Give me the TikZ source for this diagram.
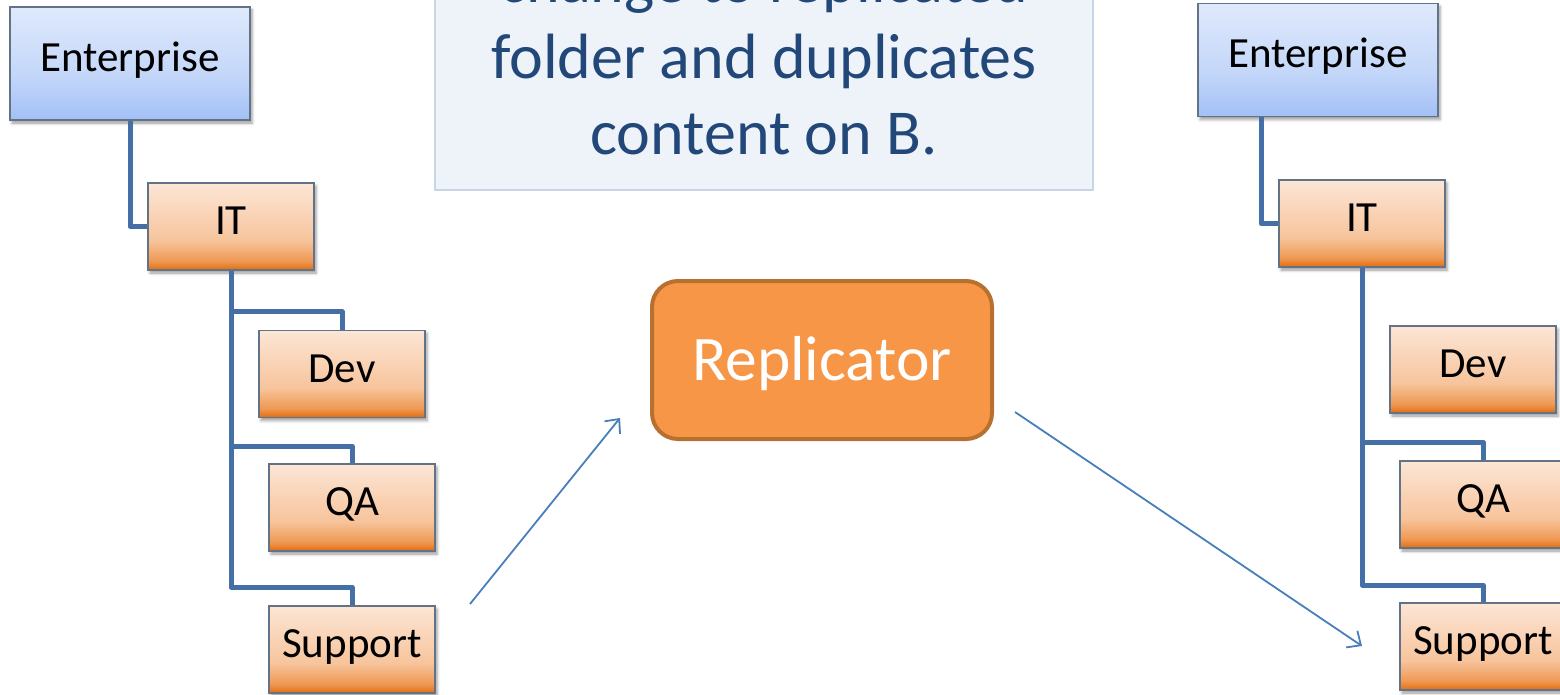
\documentclass[tikz,border=0pt]{standalone}
\usepackage{fontspec}
\setmainfont{Carlito}
\usetikzlibrary{arrows.meta,shadows.blur}
\definecolor{obot}{HTML}{E36B0C}
\definecolor{omid1}{HTML}{EE9852}
\definecolor{omid2}{HTML}{F7C49C}
\definecolor{otop}{HTML}{FCE6D6}
\definecolor{bbot}{HTML}{A2C0F6}
\definecolor{bmid}{HTML}{C4D7F9}
\definecolor{btop}{HTML}{DFE9FC}
\definecolor{boxline}{HTML}{637387}
\definecolor{treeline}{HTML}{4570A7}
\definecolor{arrowblue}{HTML}{4A7EBB}
\definecolor{repfill}{HTML}{F79646}
\definecolor{repline}{HTML}{B8702F}
\definecolor{notefill}{HTML}{EEF3F9}
\definecolor{noteline}{HTML}{C8D5E6}
\definecolor{notetext}{HTML}{22487A}
\pgfdeclareverticalshading{orangegrad}{100bp}{color(0bp)=(obot); color(25bp)=(obot); color(30bp)=(omid1); color(42bp)=(omid2); color(75bp)=(otop); color(100bp)=(otop)}
\pgfdeclareverticalshading{bluegrad}{100bp}{color(0bp)=(bbot); color(25bp)=(bbot); color(45bp)=(bmid); color(75bp)=(btop); color(100bp)=(btop)}
\tikzset{
  boxbase/.style={draw=boxline, line width=1.6pt, inner sep=0pt,
    text height=27pt, text depth=11pt,
    font=\fontsize{43}{51}\selectfont,
    blur shadow={shadow xshift=2pt, shadow yshift=-3pt, shadow blur radius=3pt, shadow opacity=40}},
  entbox/.style={boxbase, shading=bluegrad, minimum width=240pt, minimum height=113pt},
  orgbox/.style={boxbase, shading=orangegrad, minimum width=166pt, minimum height=87pt},
  tree/.style={draw=treeline, line width=5pt, line join=round},
  flow/.style={draw=arrowblue, line width=1.8pt, -{Straight Barb[length=11pt,width=20pt,line width=1.8pt]}},
  repbox/.style={draw=repline, fill=repfill, line width=4pt, rounded corners=26pt,
    minimum width=340pt, minimum height=158pt, text=white, inner sep=0pt,
    text height=40.5pt, text depth=0pt, font=\fontsize{63.5}{76}\selectfont},
  notebox/.style={draw=noteline, fill=notefill, line width=2pt, minimum width=658pt, minimum height=220pt},
  notetxt/.style={anchor=base, text=notetext, inner sep=0pt, font=\fontsize{64}{76}\selectfont}
}
\begin{document}
\begin{tikzpicture}[x=1pt,y=-1pt]
\useasboundingbox (0,0) rectangle (1560,695);
\clip (0,0) rectangle (1560,695);
% note box
\node[notebox] (note) at (764,80) {};
\node[notetxt] (note1) at (764,3) {change to replicated};
\node[notetxt] (note2) at (764,79) {folder and duplicates};
\node[notetxt] (note3) at (764,155) {content on B.};
% left tree
\node[entbox] (e1) at (130,63.5) {Enterprise};
\node[orgbox] (it1) at (231,226.5) {IT};
\node[orgbox] (dev1) at (342,374) {Dev};
\node[orgbox] (qa1) at (352,507.5) {QA};
\node[orgbox] (sup1) at (352,649.5) {Support};
\draw[tree] (e1.south) |- (it1.west);
\draw[tree] (it1.south) |- ([yshift=18pt]dev1.north) -- (dev1.north);
\draw[tree] (it1.south) |- ([yshift=17pt]qa1.north) -- (qa1.north);
\draw[tree] (it1.south) |- ([yshift=18pt]sup1.north) -- (sup1.north);
% right tree
\node[entbox] (e2) at (1318,60) {Enterprise};
\node[orgbox] (it2) at (1362,223.5) {IT};
\node[orgbox] (dev2) at (1473,369.5) {Dev};
\node[orgbox] (qa2) at (1483,504.5) {QA};
\node[orgbox] (sup2) at (1483,646.5) {Support};
\draw[tree] ([xshift=-57pt]e2.south) |- (it2.west);
\draw[tree] (it2.south) |- ([yshift=18pt]qa2.north) -- (qa2.north);
\draw[tree] (it2.south) |- ([yshift=17pt]sup2.north) -- (sup2.north);
% replicator
\node[repbox] (rep) at (822,360) {Replicator};
\coordinate (a1s) at (470,604);
\coordinate (a1e) at (620,418);
\coordinate (a2s) at (1015,412);
\coordinate (a2e) at (1362,646);
\draw[flow] (a1s) -- (a1e);
\draw[flow] (a2s) -- (a2e);
\end{tikzpicture}
\end{document}
